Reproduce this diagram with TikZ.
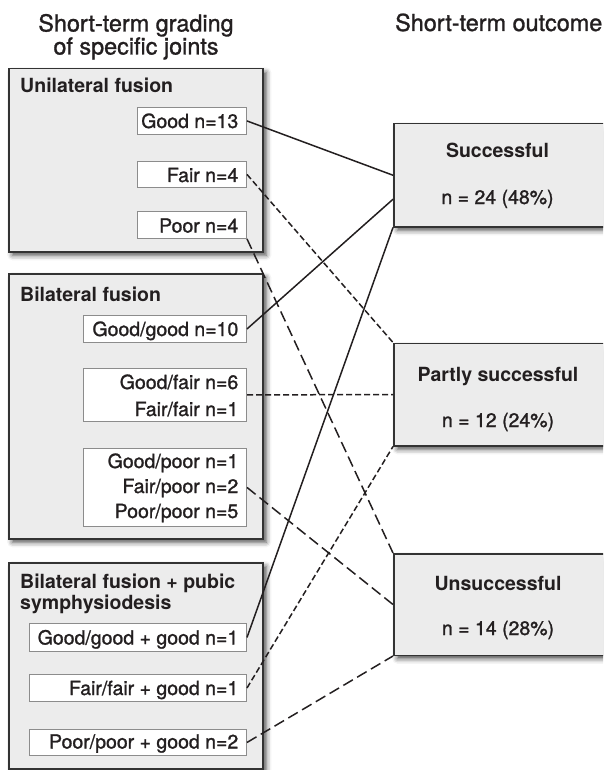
\documentclass[tikz,border=0pt]{standalone}
\usepackage{fontspec}
\setmainfont{TeX Gyre Heros}[UprightFeatures={FakeBold=1.2}]
\usetikzlibrary{shadows.blur}
\definecolor{ink}{HTML}{231F20}
\definecolor{boxfill}{HTML}{ECECEC}
\definecolor{boxline}{HTML}{333333}
\definecolor{cellline}{HTML}{8C8C8C}
\newcommand\dgCellFont{\fontsize{19.5}{21}\selectfont}
\newcommand\dgTitleFont{\fontsize{23.4}{23}\selectfont}
\begin{document}
\begin{tikzpicture}[x=1pt,y=-1pt,
  bigbox/.style={draw=boxline, line width=1.5pt, fill=boxfill, inner sep=0pt,
    blur shadow={shadow xshift=3.5pt, shadow yshift=-3.5pt, shadow blur radius=5pt, shadow opacity=70}},
  cell/.style={draw=cellline, line width=0.9pt, fill=white, inner sep=0pt, anchor=north east},
  celltext/.style={anchor=base east, inner sep=0pt, text=ink, font=\dgCellFont},
  headtext/.style={anchor=base west, inner sep=0pt, text=ink, font=\dgCellFont\bfseries},
  outtext/.style={anchor=base, inner sep=0pt, text=ink, font=\dgCellFont},
  outhead/.style={anchor=base, inner sep=0pt, text=ink, font=\dgCellFont\bfseries},
  coltitle/.style={inner sep=0pt, text=ink, font=\dgTitleFont},
  conn/.style={draw=ink, line width=1.5pt},
  shortdash/.style={dash pattern=on 6pt off 3pt},
  longdash/.style={dash pattern=on 11pt off 5pt}
]
\useasboundingbox (0,0) rectangle (603,770);
\clip (0,0) rectangle (603,770);

% column titles
\node[coltitle, anchor=base] (t1) at (136,31.5) {Short-term grading};
\node[coltitle, anchor=base] (t1b) at (136,54.5) {of specific joints};
\node[coltitle, anchor=base west] (t2) at (395,31) {Short-term outcome};

% left group boxes
\node[bigbox, anchor=north west, minimum width=254pt, minimum height=183pt] (uni) at (8,68) {};
\node[bigbox, anchor=north west, minimum width=254pt, minimum height=265pt] (bil) at (8,273) {};
\node[bigbox, anchor=north west, minimum width=254pt, minimum height=206pt] (pub) at (8,562) {};

\node[headtext] (uniT) at (20,93) {Unilateral fusion};
\node[headtext] (bilT) at (20,301) {Bilateral fusion};
\node[headtext] (pubT1) at (20,588) {Bilateral fusion + pubic};
\node[headtext] (pubT2) at (20,609) {symphysiodesis};

% right outcome boxes
\node[bigbox, anchor=north west, minimum width=260pt, minimum height=103pt] (succ) at (393,123) {};
\node[bigbox, anchor=north west, minimum width=260pt, minimum height=102.5pt] (part) at (393,342.5) {};
\node[bigbox, anchor=north west, minimum width=260pt, minimum height=101.5pt] (unsu) at (393,553) {};

\node[outhead] (succT) at (497.5,158) {Successful};
\node[outtext] (succN) at (497.5,204) {n = 24 (48\%)};
\node[outhead] (partT) at (498,381) {Partly successful};
\node[outtext] (partN) at (498,427) {n = 12 (24\%)};
\node[outhead] (unsuT) at (498,590) {Unsuccessful};
\node[outtext] (unsuN) at (498,635) {n = 14 (28\%)};

% cells: unilateral
\node[cell, minimum width=109pt, minimum height=27pt] (c1) at (247,107) {};
\node[cell, minimum width=109pt, minimum height=26pt] (c2) at (247,161) {};
\node[cell, minimum width=109pt, minimum height=27pt] (c3) at (247,211) {};
\node[celltext] (c1t) at (238.5,128) {Good n=13};
\node[celltext] (c2t) at (238.5,182) {Fair n=4};
\node[celltext] (c3t) at (238.5,232.5) {Poor n=4};

% cells: bilateral
\node[cell, minimum width=163pt, minimum height=27pt] (c4) at (247,315) {};
\node[cell, minimum width=163pt, minimum height=53pt] (c5) at (247,368) {};
\node[cell, minimum width=163pt, minimum height=78pt] (c6) at (247,448) {};
\node[celltext] (c4t) at (238.5,336) {Good/good n=10};
\node[celltext] (c5t) at (238.5,389) {Good/fair n=6};
\node[celltext] (c5u) at (238.5,416) {Fair/fair n=1};
\node[celltext] (c6t) at (238.5,468) {Good/poor n=1};
\node[celltext] (c6u) at (238.5,493) {Fair/poor n=2};
\node[celltext] (c6v) at (238.5,518) {Poor/poor n=5};

% cells: bilateral + pubic
\node[cell, minimum width=217pt, minimum height=28pt] (c7) at (247,623) {};
\node[cell, minimum width=217pt, minimum height=27pt] (c8) at (247,674) {};
\node[cell, minimum width=217pt, minimum height=26pt] (c9) at (247,729) {};
\node[celltext] (c7t) at (238.5,644.5) {Good/good + good n=1};
\node[celltext] (c8t) at (238.5,695) {Fair/fair + good n=1};
\node[celltext] (c9t) at (238.5,748.5) {Poor/poor + good n=2};

% connectors
\draw[conn] (c1.east) -- (succ.west);
\draw[conn] (c4.east) -- ([yshift=-24pt]succ.west);
\draw[conn] (c7.east) -- (succ.south west);
\draw[conn, shortdash] (c2.east) -- (part.north west);
\draw[conn, shortdash] (c5.east) -- (part.west);
\draw[conn, shortdash] (c8.east) -- (part.south west);
\draw[conn, longdash] (c3.south east) -- (unsu.north west);
\draw[conn, longdash] (c6.east) -- (unsu.west);
\draw[conn, longdash] (c9.east) -- (unsu.south west);
\end{tikzpicture}
\end{document}
